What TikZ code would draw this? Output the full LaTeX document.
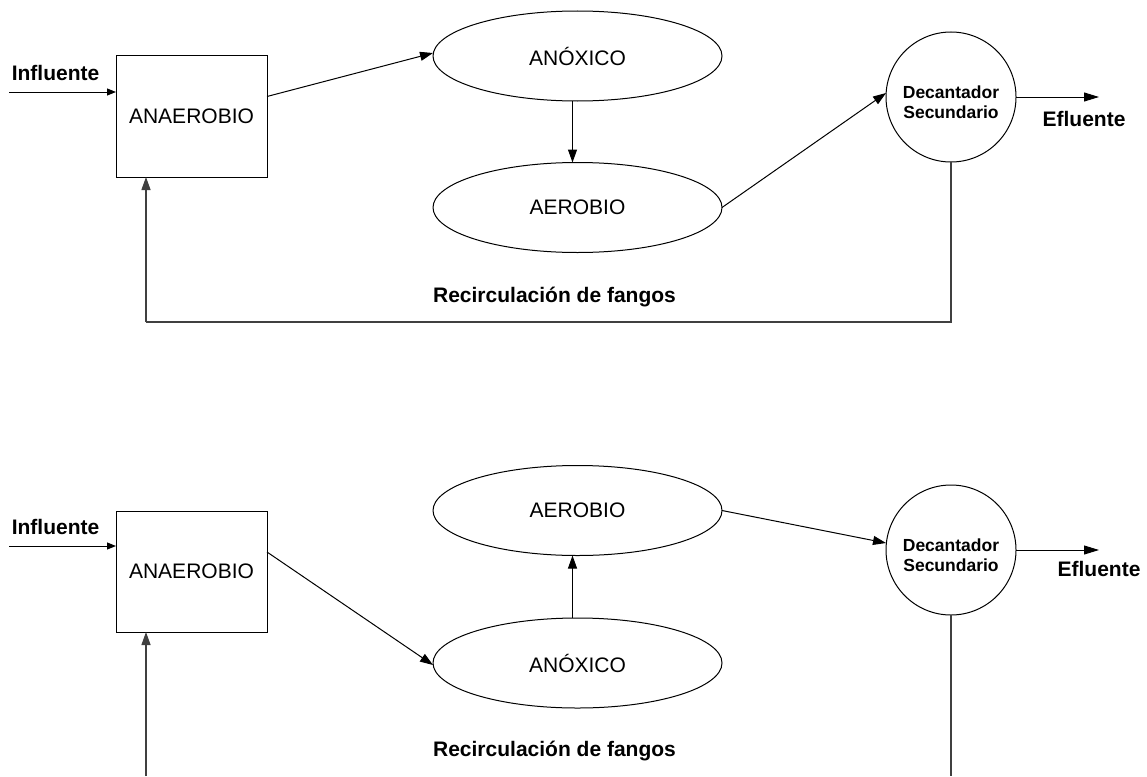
\documentclass[tikz,border=0pt]{standalone}
\usepackage{fontspec}
\setmainfont{Liberation Sans}
\usetikzlibrary{arrows.meta, shapes.geometric}

\newcommand{\settlertext}{\raisebox{-7pt}[\height][\depth]{\begin{tabular}{@{}c@{}}Decantador\\Secundario\end{tabular}}}

\begin{document}
\begin{tikzpicture}[
    x=1pt, y=-1pt,
    tank/.style={
        draw,
        line width=1pt,
        minimum width=151pt,
        minimum height=121pt,
        inner sep=0pt,
        outer sep=0pt,
        font=\fontsize{21}{25}\selectfont
    },
    reactor/.style={
        ellipse,
        draw,
        line width=1pt,
        minimum width=289pt,
        minimum height=90pt,
        inner sep=0pt,
        outer sep=0pt,
        font=\fontsize{21}{25}\selectfont
    },
    settler/.style={
        circle,
        draw,
        line width=1pt,
        minimum size=130pt,
        inner sep=0pt,
        outer sep=0pt,
        font=\bfseries\fontsize{17.5}{20}\selectfont
    },
    flowlabel/.style={
        font=\bfseries\fontsize{21}{25}\selectfont
    },
    arr/.style={
        -{Triangle[length=13pt, width=9pt]},
        line width=1pt
    },
    smallarr/.style={
        -{Triangle[length=9pt, width=7pt]},
        line width=1pt
    },
    bigarr/.style={
        -{Triangle[length=15pt, width=9pt]},
        line width=1pt
    },
    recirc/.style={
        line width=1.3pt,
        black!75
    }
]
\useasboundingbox (0,0) rectangle (1147,776);

% Upper scheme
\node[tank] (anaer) at (191.5,116.5) {ANAEROBIO};
\node[reactor] (anox) at (577.5,56) {ANÓXICO};
\node[reactor] (aer) at (577.5,207.5) {AEROBIO};
\node[settler] (dec) at (951,97) {\settlertext};

\node[flowlabel] (infl) at (55.5,73) {Influente};
\node[flowlabel] (efl) at (1084,119) {Efluente};
\node[flowlabel] (rec) at (554.5,297) {Recirculación de fangos};

\coordinate (inflin) at (9,92);
\coordinate (eflout) at (1099,97);
\coordinate (ret) at (146,322);

\draw[smallarr] (inflin) -- (inflin -| anaer.west);
\draw[arr] ([yshift=20pt]anaer.east) -- ([yshift=3pt]anox.west);
\draw[arr] ([xshift=-5pt]anox.south) -- ([xshift=-5pt]aer.north);
\draw[arr] (aer.east) -- ([yshift=4pt]dec.west);
\draw[bigarr] (dec.east) -- (eflout);

\draw[recirc] (dec.south) |- (ret);
\draw[arr, recirc] (ret) -- (ret |- anaer.south);

% Lower scheme
\node[tank] (anaerb) at (191.5,571.5) {ANAEROBIO};
\node[reactor] (aerb) at (577.5,510.5) {AEROBIO};
\node[reactor] (anoxb) at (577.5,663) {ANÓXICO};
\node[settler] (decb) at (951,550) {\settlertext};

\node[flowlabel] (inflb) at (55.5,527) {Influente};
\node[flowlabel] (eflb) at (1099,569) {Efluente};
\node[flowlabel] (recb) at (554.5,751) {Recirculación de fangos};

\coordinate (inflinb) at (9,546);
\coordinate (efloutb) at (1099,550);
\coordinate (retl) at (146,776);
\coordinate (retr) at (951,776);

\draw[smallarr] (inflinb) -- (inflinb -| anaerb.west);
\draw[arr] ([yshift=19.5pt]anaerb.east) -- ([yshift=-2pt]anoxb.west);
\draw[arr] ([xshift=-5pt]anoxb.north) -- ([xshift=-5pt]aerb.south);
\draw[arr] (aerb.east) -- ([yshift=7pt]decb.west);
\draw[bigarr] (decb.east) -- (efloutb);

\draw[recirc] (decb.south) -- (retr);
\draw[arr, recirc] (retl) -- (retl |- anaerb.south);

\end{tikzpicture}
\end{document}
